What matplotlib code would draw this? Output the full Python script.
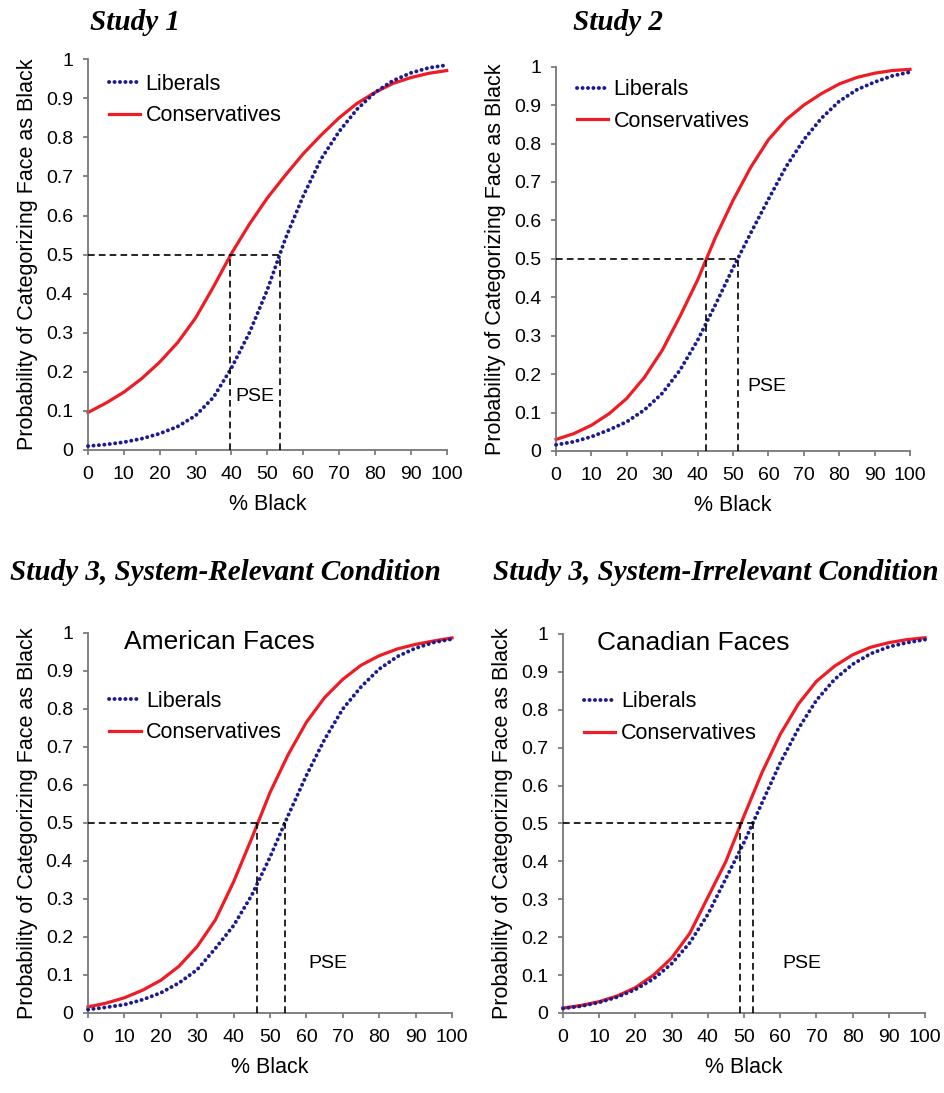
import numpy as np
import matplotlib
matplotlib.use("Agg")
import matplotlib.pyplot as plt

# % Black morph levels the curves were read at
pct = [0, 5, 10, 15, 20, 25, 30, 35, 40, 45, 50, 55, 60, 65, 70, 75, 80, 85, 90, 95, 100]

# Study 1
s1_lib = [0.010, 0.014, 0.020, 0.029, 0.042, 0.060, 0.088, 0.135, 0.210, 0.300, 0.410,
          0.540, 0.650, 0.745, 0.815, 0.872, 0.915, 0.945, 0.965, 0.978, 0.985]
s1_con = [0.096, 0.120, 0.148, 0.183, 0.225, 0.275, 0.338, 0.418, 0.503, 0.578, 0.645,
          0.703, 0.758, 0.806, 0.850, 0.887, 0.915, 0.938, 0.953, 0.964, 0.971]
# Study 2
s2_lib = [0.016, 0.024, 0.037, 0.055, 0.076, 0.107, 0.150, 0.210, 0.288, 0.380, 0.476,
          0.567, 0.655, 0.740, 0.810, 0.866, 0.910, 0.940, 0.960, 0.976, 0.986]
s2_con = [0.030, 0.045, 0.067, 0.097, 0.137, 0.192, 0.262, 0.350, 0.445, 0.555, 0.652,
          0.738, 0.810, 0.862, 0.900, 0.930, 0.955, 0.972, 0.983, 0.990, 0.993]
# Study 3, American faces
s3a_lib = [0.009, 0.015, 0.022, 0.035, 0.053, 0.079, 0.114, 0.170, 0.230, 0.310, 0.410,
           0.520, 0.625, 0.720, 0.800, 0.858, 0.905, 0.938, 0.960, 0.975, 0.984]
s3a_con = [0.016, 0.026, 0.040, 0.060, 0.086, 0.123, 0.175, 0.245, 0.345, 0.460, 0.580,
           0.680, 0.765, 0.830, 0.878, 0.915, 0.940, 0.958, 0.970, 0.979, 0.987]
# Study 3, Canadian faces
s3c_lib = [0.012, 0.018, 0.028, 0.042, 0.062, 0.090, 0.130, 0.185, 0.260, 0.355, 0.450,
           0.555, 0.660, 0.750, 0.825, 0.880, 0.920, 0.948, 0.966, 0.977, 0.985]
s3c_con = [0.013, 0.020, 0.030, 0.045, 0.067, 0.100, 0.145, 0.210, 0.305, 0.400, 0.520,
           0.635, 0.735, 0.815, 0.875, 0.915, 0.945, 0.965, 0.977, 0.985, 0.990]

# points of subjective equality (liberal, conservative)
pse_s1 = (53.4, 39.6)
pse_s2 = (51.5, 42.4)
pse_s3a = (54.2, 46.4)
pse_s3c = (52.5, 49.0)

titles = ["Study 1", "Study 2", "Study 3, System-Relevant Condition",
          "Study 3, System-Irrelevant Condition"]
face_labels = [None, None, "American Faces", "Canadian Faces"]

plt.rcParams["font.family"] = ["Liberation Sans", "DejaVu Sans"]

BLUE = "#1c1c8e"
RED = "#ee1c24"
W, H = 944, 1093

fig = plt.figure(figsize=(W / 100, H / 100), dpi=100)

panels = [
    ([0.0932, 0.5883, 0.380, 0.3575], s1_lib, s1_con, pse_s1, (41, 0.138), (0.035, 0.985)),
    ([0.589, 0.5874, 0.375, 0.3516], s2_lib, s2_con, pse_s2, (54, 0.167), (0.035, 0.99)),
    ([0.0932, 0.0732, 0.3856, 0.3477], s3a_lib, s3a_con, pse_s3a, (60.5, 0.13), (0.035, 0.871)),
    ([0.5964, 0.0732, 0.3835, 0.3468], s3c_lib, s3c_con, pse_s3c, (60.5, 0.13), (0.035, 0.871)),
]

for i, (rect, lib, con, pse, pse_xy, leg_anchor) in enumerate(panels):
    ax = fig.add_axes(rect)
    ax_w = rect[2] * W
    ax_h = rect[3] * H
    ax.plot(pct, lib, color=BLUE, lw=2.8, linestyle=(0, (0.05, 1.35)),
            dash_capstyle="round", label="Liberals", clip_on=False, zorder=3)
    ax.plot(pct, con, color=RED, lw=2.3, label="Conservatives", clip_on=False, zorder=2)

    # dashed PSE guides
    ax.plot([0, max(pse)], [0.5, 0.5], color="black", lw=1.2, ls=(0, (4, 2.5)), zorder=4)
    for p in pse:
        ax.plot([p, p], [0, 0.5], color="black", lw=1.2, ls=(0, (4, 2.5)), zorder=4)
    ax.text(pse_xy[0], pse_xy[1], "PSE", fontsize=14, va="center", ha="left")

    ax.set_xlim(0, 100)
    ax.set_ylim(0, 1)
    ax.set_xticks(range(0, 101, 10))
    ax.set_yticks(np.arange(0, 1.01, 0.1))
    ax.set_yticklabels(["0", "0.1", "0.2", "0.3", "0.4", "0.5", "0.6", "0.7", "0.8", "0.9", "1"])
    ax.tick_params(labelsize=14, length=3.8, width=1.1, color="#666666", direction="out")
    ax.tick_params(axis="x", pad=8)
    ax.tick_params(axis="y", pad=7)
    ax.spines[["top", "right"]].set_visible(False)
    ax.spines[["left", "bottom"]].set_color("#777777")
    ax.spines[["left", "bottom"]].set_linewidth(1.3)
    ax.set_xlabel("% Black", fontsize=15.5)
    ax.set_ylabel("Probability of Categorizing Face as Black", fontsize=15.5)
    ax.xaxis.set_label_coords(0.5, -44 / ax_h)
    ax.yaxis.set_label_coords(-50 / ax_w, 0.5)

    ax.legend(loc="upper left", bbox_to_anchor=leg_anchor, frameon=False, fontsize=15.5,
              handlelength=1.45, handletextpad=0.25, labelspacing=0.5, borderaxespad=0)

    if face_labels[i]:
        ax.text(0.1 if i == 2 else 0.093, 0.975, face_labels[i], transform=ax.transAxes,
                fontsize=19, va="center", ha="left")

title_pos = [(90, 22), (573, 22), (10, 572), (493, 572)]
for t, (px, py) in zip(titles, title_pos):
    fig.text(px / W, 1 - py / H, t, fontsize=21, fontweight="bold", style="italic",
             family="Liberation Serif", va="center", ha="left")

fig.savefig("out.png", dpi=100)
